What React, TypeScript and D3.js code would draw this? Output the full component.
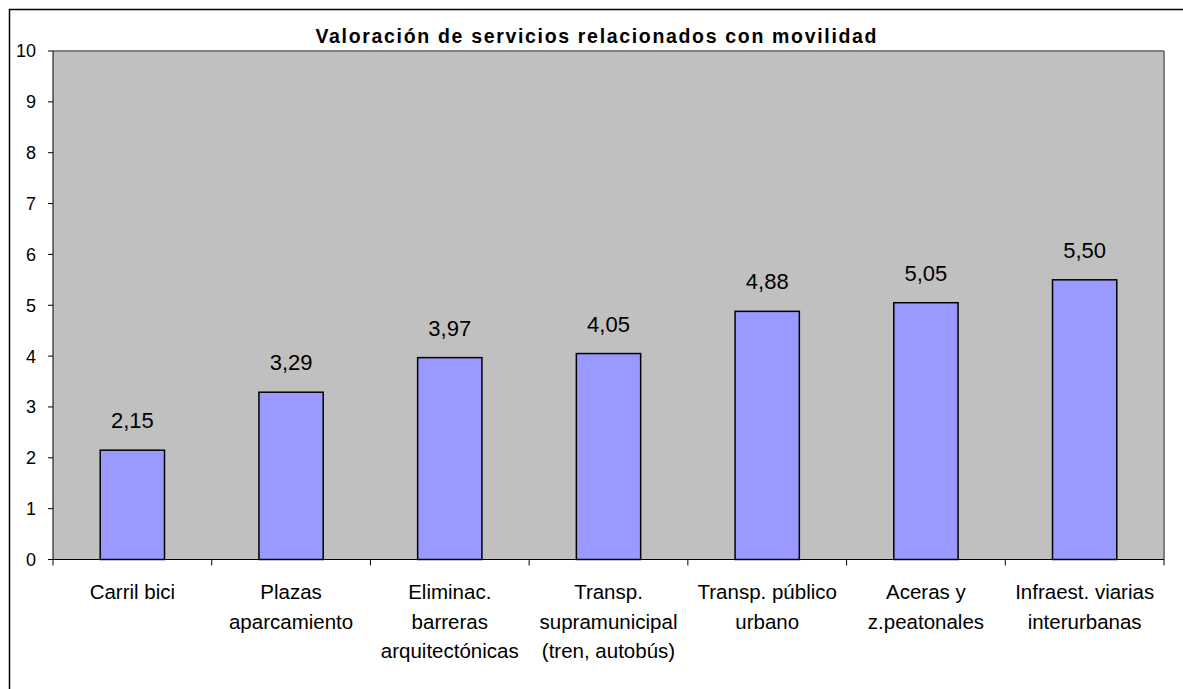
import React from 'react';
import * as d3 from 'd3';

const title = 'Valoración de servicios relacionados con movilidad';
const categories = [
  ['Carril bici'],
  ['Plazas', 'aparcamiento'],
  ['Eliminac.', 'barreras', 'arquitectónicas'],
  ['Transp.', 'supramunicipal', '(tren, autobús)'],
  ['Transp. público', 'urbano'],
  ['Aceras y', 'z.peatonales'],
  ['Infraest. viarias', 'interurbanas'],
];
const values = [2.15, 3.29, 3.97, 4.05, 4.88, 5.05, 5.5];
const yTicks = [0, 1, 2, 3, 4, 5, 6, 7, 8, 9, 10];

const W = 1183;
const H = 689;
const font = "Arial, 'Liberation Sans', sans-serif";

export default function App() {
  const left = 53, right = 1164, top = 51, bottom = 559.5;
  const keys = categories.map((c, i) => String(i));

  const x = d3.scaleBand<string>().domain(keys).range([left, right]).padding(0);
  const y = d3.scaleLinear().domain([0, 10]).range([bottom, top]);
  const barW = x.bandwidth() * 0.405;
  const fmt = (v: number) => d3.format('.2f')(v).replace('.', ',');

  const boundaries = d3.range(categories.length + 1).map((i) => left + i * x.bandwidth());

  return (
    <svg width={W} height={H} style={{ position: 'absolute', left: 0, top: 0, background: '#fff' }}>
      <rect x={9.5} y={9.5} width={W} height={H} fill="#fff" stroke="#000" strokeWidth={1.5} />
      <text x={596} y={42.5} textAnchor="middle" fontFamily={font} fontWeight="bold" fontSize={19.5}
        textLength={561} lengthAdjust="spacing">{title}</text>

      <rect x={left} y={top} width={right - left} height={bottom - top} fill="#C0C0C0" />
      <line x1={left} y1={top} x2={right} y2={top} stroke="#808080" strokeWidth={2} />
      <line x1={right} y1={top} x2={right} y2={bottom} stroke="#808080" strokeWidth={2} />

      {values.map((v, i) => {
        const cx = (x(keys[i]) as number) + x.bandwidth() / 2;
        return (
          <g key={i}>
            <rect x={cx - barW / 2} y={y(v)} width={barW} height={bottom - y(v)} fill="#9999FF" stroke="#000" strokeWidth={1.5} />
            <text x={cx} y={y(v) - 22} textAnchor="middle" fontFamily={font} fontSize={22}>{fmt(v)}</text>
          </g>
        );
      })}

      {/* y axis */}
      <line x1={left} y1={top} x2={left} y2={bottom} stroke="#000" strokeWidth={1} />
      {yTicks.map((t) => (
        <g key={t}>
          <line x1={left - 5} y1={y(t)} x2={left} y2={y(t)} stroke="#000" />
          <text x={36} y={y(t)} dy="0.36em" textAnchor="end" fontFamily={font} fontSize={18}>{t}</text>
        </g>
      ))}

      {/* x axis */}
      <line x1={left} y1={bottom} x2={right} y2={bottom} stroke="#000" strokeWidth={1} />
      {boundaries.map((b, i) => (
        <line key={i} x1={b} y1={bottom} x2={b} y2={bottom + 6} stroke="#000" />
      ))}
      {categories.map((lines, i) => {
        const cx = (x(keys[i]) as number) + x.bandwidth() / 2;
        return (
          <text key={i} textAnchor="middle" fontFamily={font} fontSize={20.5}>
            {lines.map((l, j) => (
              <tspan key={j} x={cx} y={599 + j * 29.5}>{l}</tspan>
            ))}
          </text>
        );
      })}
    </svg>
  );
}
